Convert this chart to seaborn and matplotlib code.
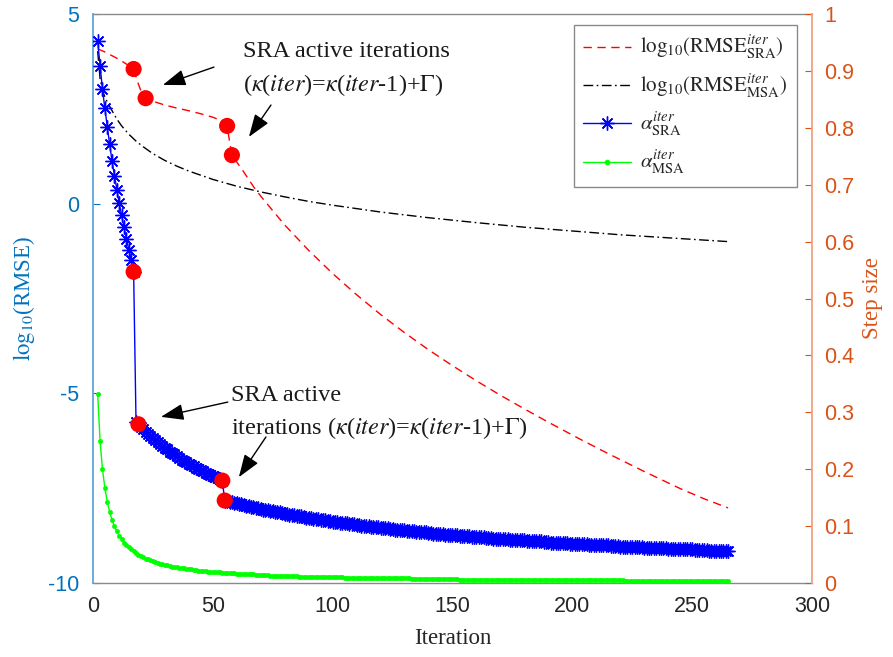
import numpy as np
import pandas as pd
import matplotlib
matplotlib.use("Agg")
import matplotlib.pyplot as plt
from matplotlib.lines import Line2D
from matplotlib.ticker import FuncFormatter
import seaborn as sns

sns.set_style("white")
plt.rcParams["font.family"] = ["Liberation Serif", "DejaVu Serif"]
plt.rcParams["mathtext.fontset"] = "stix"
plt.rcParams["axes.unicode_minus"] = False

# ---------------- data ----------------
# step sizes are recorded from iteration 2 to 265
iter_steps = np.arange(2, 266)

alpha_sra = [
    # iterations 2-17
    0.953, 0.909, 0.868, 0.834, 0.802, 0.771, 0.741, 0.716, 0.690, 0.667,
    0.646, 0.625, 0.605, 0.586, 0.567, 0.547,
    # iterations 18-54
    0.283, 0.279, 0.274, 0.270, 0.266, 0.262, 0.258, 0.255, 0.251, 0.248,
    0.244, 0.241, 0.238, 0.235, 0.231, 0.228, 0.226, 0.223, 0.220, 0.217,
    0.215, 0.212, 0.210, 0.207, 0.205, 0.203, 0.200, 0.198, 0.196, 0.194,
    0.192, 0.190, 0.188, 0.186, 0.184, 0.182, 0.180,
    # iterations 55-265
    0.145, 0.144, 0.143, 0.142, 0.141, 0.140, 0.139, 0.138, 0.137, 0.136,
    0.135, 0.134, 0.133, 0.132, 0.131, 0.130, 0.129, 0.129, 0.128, 0.127,
    0.126, 0.125, 0.124, 0.124, 0.123, 0.122, 0.121, 0.120, 0.120, 0.119,
    0.118, 0.117, 0.117, 0.116, 0.115, 0.115, 0.114, 0.113, 0.113, 0.112,
    0.111, 0.111, 0.110, 0.109, 0.109, 0.108, 0.108, 0.107, 0.106, 0.106,
    0.105, 0.105, 0.104, 0.104, 0.103, 0.102, 0.102, 0.101, 0.101, 0.100,
    0.100, 0.099, 0.099, 0.098, 0.098, 0.097, 0.097, 0.096, 0.096, 0.095,
    0.095, 0.094, 0.094, 0.093, 0.093, 0.093, 0.092, 0.092, 0.091, 0.091,
    0.090, 0.090, 0.089, 0.089, 0.089, 0.088, 0.088, 0.087, 0.087, 0.087,
    0.086, 0.086, 0.085, 0.085, 0.085, 0.084, 0.084, 0.084, 0.083, 0.083,
    0.083, 0.082, 0.082, 0.081, 0.081, 0.081, 0.080, 0.080, 0.080, 0.079,
    0.079, 0.079, 0.078, 0.078, 0.078, 0.078, 0.077, 0.077, 0.077, 0.076,
    0.076, 0.076, 0.075, 0.075, 0.075, 0.075, 0.074, 0.074, 0.074, 0.073,
    0.073, 0.073, 0.073, 0.072, 0.072, 0.072, 0.071, 0.071, 0.071, 0.071,
    0.070, 0.070, 0.070, 0.070, 0.069, 0.069, 0.069, 0.069, 0.068, 0.068,
    0.068, 0.068, 0.067, 0.067, 0.067, 0.067, 0.067, 0.066, 0.066, 0.066,
    0.066, 0.065, 0.065, 0.065, 0.065, 0.064, 0.064, 0.064, 0.064, 0.064,
    0.063, 0.063, 0.063, 0.063, 0.063, 0.062, 0.062, 0.062, 0.062, 0.062,
    0.061, 0.061, 0.061, 0.061, 0.061, 0.060, 0.060, 0.060, 0.060, 0.060,
    0.059, 0.059, 0.059, 0.059, 0.059, 0.059, 0.058, 0.058, 0.058, 0.058,
    0.058, 0.058, 0.057, 0.057, 0.057, 0.057, 0.057, 0.057, 0.056, 0.056,
    0.056,
]

alpha_msa = [
    0.333, 0.250, 0.200, 0.167, 0.143, 0.125, 0.111, 0.100, 0.091, 0.083,
    0.077, 0.071, 0.067, 0.063, 0.059, 0.056, 0.053, 0.050, 0.048, 0.045,
    0.043, 0.042, 0.040, 0.038, 0.037, 0.036, 0.034, 0.033, 0.032, 0.031,
    0.030, 0.029, 0.029, 0.028, 0.027, 0.026, 0.026, 0.025, 0.024, 0.024,
    0.023, 0.023, 0.022, 0.022, 0.021, 0.021, 0.020, 0.020, 0.020, 0.019,
    0.019, 0.019, 0.018, 0.018, 0.018, 0.017, 0.017, 0.017, 0.016, 0.016,
    0.016, 0.016, 0.015, 0.015, 0.015, 0.015, 0.014, 0.014, 0.014, 0.014,
    0.014, 0.014, 0.013, 0.013, 0.013, 0.013, 0.013, 0.013, 0.012, 0.012,
    0.012, 0.012, 0.012, 0.012, 0.011, 0.011, 0.011, 0.011, 0.011, 0.011,
    0.011, 0.011, 0.011, 0.010, 0.010, 0.010, 0.010, 0.010, 0.010, 0.010,
    0.010, 0.010, 0.010, 0.009, 0.009, 0.009, 0.009, 0.009, 0.009, 0.009,
    0.009, 0.009, 0.009, 0.009, 0.009, 0.008, 0.008, 0.008, 0.008, 0.008,
    0.008, 0.008, 0.008, 0.008, 0.008, 0.008, 0.008, 0.008, 0.008, 0.008,
    0.008, 0.007, 0.007, 0.007, 0.007, 0.007, 0.007, 0.007, 0.007, 0.007,
    0.007, 0.007, 0.007, 0.007, 0.007, 0.007, 0.007, 0.007, 0.007, 0.007,
    0.007, 0.006, 0.006, 0.006, 0.006, 0.006, 0.006, 0.006, 0.006, 0.006,
    0.006, 0.006, 0.006, 0.006, 0.006, 0.006, 0.006, 0.006, 0.006, 0.006,
    0.006, 0.006, 0.006, 0.006, 0.006, 0.006, 0.006, 0.006, 0.006, 0.005,
    0.005, 0.005, 0.005, 0.005, 0.005, 0.005, 0.005, 0.005, 0.005, 0.005,
    0.005, 0.005, 0.005, 0.005, 0.005, 0.005, 0.005, 0.005, 0.005, 0.005,
    0.005, 0.005, 0.005, 0.005, 0.005, 0.005, 0.005, 0.005, 0.005, 0.005,
    0.005, 0.005, 0.005, 0.005, 0.005, 0.005, 0.005, 0.005, 0.005, 0.005,
    0.004, 0.004, 0.004, 0.004, 0.004, 0.004, 0.004, 0.004, 0.004, 0.004,
    0.004, 0.004, 0.004, 0.004, 0.004, 0.004, 0.004, 0.004, 0.004, 0.004,
    0.004, 0.004, 0.004, 0.004, 0.004, 0.004, 0.004, 0.004, 0.004, 0.004,
    0.004, 0.004, 0.004, 0.004, 0.004, 0.004, 0.004, 0.004, 0.004, 0.004,
    0.004, 0.004, 0.004, 0.004,
]

# log10 of RMSE, left axis
iter_rmse_sra = [2, 5, 8, 11, 14, 17, 18, 19, 20, 21, 22, 26, 30, 35, 40, 45,
                 50, 54, 56, 57, 58, 60, 63, 67, 70, 75, 80, 90, 100, 110, 120,
                 130, 140, 150, 160, 170, 180, 190, 203, 215, 230, 245, 255, 265]
rmse_sra = [4.08, 4.00, 3.90, 3.80, 3.68, 3.55, 3.35, 3.15, 2.98, 2.86, 2.78,
            2.68, 2.60, 2.52, 2.45, 2.37, 2.28, 2.18, 2.05, 1.65, 1.28, 1.10,
            0.83, 0.45, 0.20, -0.18, -0.56, -1.23, -1.84, -2.40, -2.92, -3.40,
            -3.85, -4.27, -4.67, -5.05, -5.41, -5.76, -6.20, -6.59, -7.06,
            -7.51, -7.78, -8.02]

iter_rmse_msa = [2, 3, 4, 5, 6, 8, 10, 12, 15, 18, 21, 25, 30, 35, 40, 50, 60,
                 70, 80, 90, 100, 120, 140, 160, 180, 200, 220, 240, 265]
rmse_msa = [4.02, 3.30, 2.98, 2.82, 2.68, 2.45, 2.23, 2.05, 1.83, 1.65, 1.50,
            1.32, 1.14, 0.99, 0.86, 0.64, 0.46, 0.31, 0.18, 0.06, -0.04, -0.22,
            -0.37, -0.50, -0.62, -0.72, -0.82, -0.90, -1.00]

# SRA active iterations highlighted with red dots
active_iter_rmse = [17, 22, 56, 58]
active_rmse = [3.55, 2.78, 2.05, 1.28]
active_iter_alpha = [17, 19, 54, 55]
active_alpha = [0.547, 0.279, 0.180, 0.145]

x_ticks = [0, 50, 100, 150, 200, 250, 300]
left_ticks = [-10, -5, 0, 5]
right_ticks = [0, 0.1, 0.2, 0.3, 0.4, 0.5, 0.6, 0.7, 0.8, 0.9, 1.0]

# ---------------- styling ----------------
C_LEFT = "#0072BD"
C_RIGHT = "#D95319"
C_AX = "#262626"
RED, BLACK, BLUE, GREEN = "#FF0000", "#000000", "#0000FF", "#00FF00"
RED_DASH = (6, 4)
DASH_DOT = (7, 2.5, 1.2, 2.5)
ASTERISK = (8, 2, 0)

fig = plt.figure(figsize=(8.93, 6.57), dpi=100)
ax = fig.add_axes([0.104, 0.1126, 0.8053, 0.8661])
ax2 = ax.twinx()

df_sra = pd.DataFrame({"iter": iter_rmse_sra, "v": rmse_sra})
df_msa = pd.DataFrame({"iter": iter_rmse_msa, "v": rmse_msa})
df_alpha = pd.DataFrame({"iter": iter_steps, "sra": alpha_sra, "msa": alpha_msa})

sns.lineplot(data=df_sra, x="iter", y="v", ax=ax, color=RED, lw=1.0)
ax.lines[-1].set_dashes(RED_DASH)
sns.lineplot(data=df_msa, x="iter", y="v", ax=ax, color=BLACK, lw=1.0)
ax.lines[-1].set_dashes(DASH_DOT)
sns.scatterplot(x=active_iter_rmse, y=active_rmse, ax=ax, color=RED,
                s=135, edgecolor="none", zorder=5)

sns.lineplot(data=df_alpha, x="iter", y="sra", ax=ax2, color=BLUE, lw=1.0,
             marker=ASTERISK, markersize=10, markeredgewidth=1.0,
             markeredgecolor=BLUE)
sns.lineplot(data=df_alpha, x="iter", y="msa", ax=ax2, color=GREEN, lw=1.0,
             marker=".", markersize=6, markeredgewidth=0.5,
             markeredgecolor=GREEN, markerfacecolor=GREEN)
sns.scatterplot(x=active_iter_alpha, y=active_alpha, ax=ax2, color=RED,
                s=135, edgecolor="none", zorder=5)

# axes limits and ticks
ax.set_xlim(0, 300)
ax.set_ylim(-10, 5)
ax2.set_ylim(0, 1)
ax.set_xticks(x_ticks)
ax.set_yticks(left_ticks)
ax2.set_yticks(right_ticks)
ax2.yaxis.set_major_formatter(FuncFormatter(lambda v, p: f"{v:g}"))

ax.tick_params(axis="x", direction="in", length=5, width=0.8, colors=C_AX,
               labelsize=15.5, pad=9, labelfontfamily="Liberation Sans",
               top=False)
ax.tick_params(axis="y", direction="in", length=5, width=0.8, colors=C_LEFT,
               labelsize=15.5, pad=10, labelfontfamily="Liberation Sans")
ax2.tick_params(axis="y", direction="in", length=5, width=0.8, colors=C_RIGHT,
                labelsize=15.5, pad=9, labelfontfamily="Liberation Sans")

for sp in ["top", "bottom"]:
    ax.spines[sp].set_color("#8a8a8a")
    ax.spines[sp].set_linewidth(1.0)
ax.spines["right"].set_visible(False)
ax.spines["left"].set_color("#5fa6dc")
ax.spines["left"].set_linewidth(1.3)
for sp in ["top", "bottom", "left"]:
    ax2.spines[sp].set_visible(False)
ax2.spines["right"].set_color("#eda382")
ax2.spines["right"].set_linewidth(1.3)

ax.set_xlabel("Iteration", fontsize=16.5, color=C_AX, labelpad=8)
ax.set_ylabel(r"$\mathrm{log}_{10}$(RMSE)", fontsize=16.5, color=C_LEFT,
              labelpad=8)
ax2.set_ylabel("Step size", fontsize=16.5, color=C_RIGHT, labelpad=5)

# annotations for the SRA active iterations
arrow = dict(arrowstyle="-|>,head_length=1.4,head_width=0.5", color="k",
             lw=1.0, shrinkA=0, shrinkB=0)
ax.annotate("", xy=(29.2, 3.13), xytext=(50.5, 3.60), arrowprops=arrow)
ax.annotate("", xy=(65.1, 1.76), xytext=(74.3, 2.60), arrowprops=arrow)
ax.annotate("", xy=(28.4, -5.62), xytext=(56.3, -5.23), arrowprops=arrow)
ax.annotate("", xy=(60.9, -7.21), xytext=(72.2, -6.15), arrowprops=arrow)

kappa_rule = r"($\kappa$($iter$)=$\kappa$($iter$-1)+$\Gamma$)"
txt = dict(fontsize=17.5, va="center", ha="left", color="#1a1a1a")
ax.text(62.6, 4.02, "SRA active iterations", **txt)
ax.text(62.6, 3.14, kappa_rule, **txt)
ax.text(57.8, -5.05, "SRA active", **txt)
ax.text(57.8, -5.92, "iterations " + kappa_rule, **txt)

# legend
handles = [
    Line2D([], [], color=RED, lw=1.0, dashes=RED_DASH),
    Line2D([], [], color=BLACK, lw=1.0, dashes=DASH_DOT),
    Line2D([], [], color=BLUE, lw=1.0, marker=ASTERISK, markersize=10,
           markeredgecolor=BLUE, markeredgewidth=1.0),
    Line2D([], [], color=GREEN, lw=1.0, marker=".", markersize=6,
           markeredgecolor=GREEN, markerfacecolor=GREEN),
]
labels = [
    r"$\mathrm{log}_{10}(\mathrm{RMSE}_{\mathrm{SRA}}^{iter})$",
    r"$\mathrm{log}_{10}(\mathrm{RMSE}_{\mathrm{MSA}}^{iter})$",
    r"$\alpha_{\mathrm{SRA}}^{iter}$",
    r"$\alpha_{\mathrm{MSA}}^{iter}$",
]
leg = ax2.legend(handles, labels, loc="upper right",
                 bbox_to_anchor=(0.979, 0.981), borderaxespad=0,
                 fancybox=False, edgecolor="#8a8a8a", framealpha=1,
                 fontsize=15, handlelength=2.3, labelspacing=0.5,
                 handletextpad=0.45, borderpad=0.45)
leg.get_frame().set_linewidth(1.0)

fig.savefig("out.png", dpi=100, facecolor="white")
